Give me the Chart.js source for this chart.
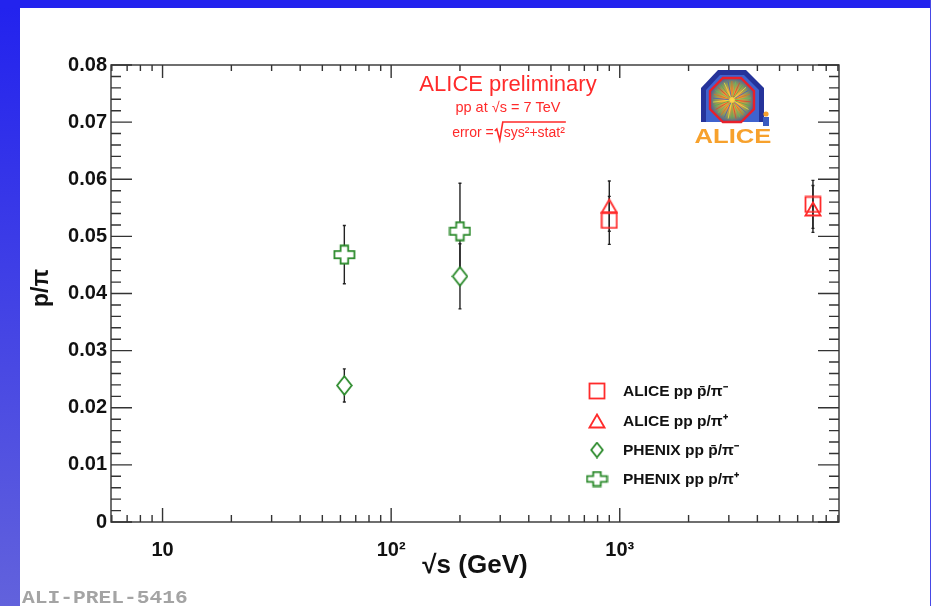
<!DOCTYPE html>
<html>
<head>
<meta charset="utf-8">
<script src="https://cdn.jsdelivr.net/npm/chart.js@4.4.1/dist/chart.umd.min.js"></script>
<style>
  html, body { margin: 0; padding: 0; background: #fff; }
  #page { position: relative; width: 931px; height: 606px; overflow: hidden; background: #fff; }
  #barLeft { position: absolute; left: 0; top: 0; width: 20px; height: 606px; background: linear-gradient(#2222ee, #6262dc); }
  #barTop { position: absolute; left: 0; top: 0; width: 931px; height: 8px; background: #2323ee; }
  #barRight { position: absolute; right: 0; top: 0; width: 1px; height: 606px; background: #4848e6; }
  canvas { position: absolute; left: 0; top: 0; }
</style>
</head>
<body>
<div id="page">
  <div id="barLeft"></div>
  <div id="barTop"></div>
  <div id="barRight"></div>
  <canvas id="chart" width="931" height="606"></canvas>
</div>
<script>
// axis ranges and ticks
const xMin = 5.95, xMax = 9100;
const yMin = 0, yMax = 0.08;
const xMajorTicks = [10, 100, 1000];
const xTickLabels = ['10', '10²', '10³'];

// ALICE pp, sqrt(s) = 0.9 and 7 TeV
const aliceEnergies = [900, 7000];
const aliceAntiP = [0.0528, 0.0556];
const aliceAntiPErr = [0.0042, 0.0042];
const aliceP = [0.0553, 0.0548];
const alicePErr = [0.0044, 0.0041];

// PHENIX pp, sqrt(s) = 62.4 and 200 GeV
const phenixEnergies = [62.4, 200];
const phenixAntiP = [0.0239, 0.0430];
const phenixAntiPErr = [0.0029, 0.0057];
const phenixP = [0.0468, 0.0509];
const phenixPErr = [0.0051, 0.0084];

const legendLabels = ['ALICE pp p̄/π⁻', 'ALICE pp p/π⁺', 'PHENIX pp p̄/π⁻', 'PHENIX pp p/π⁺'];

const FONT = "'Liberation Sans', Arial, Helvetica, sans-serif";
const RED = '#ff2b2b', GREEN = '#2b8a2b';

function makeMarker(w, h, draw) {
    const c = document.createElement('canvas');
    c.width = w; c.height = h;
    draw(c.getContext('2d'), w, h);
    return c;
}
function poly(g, pts) {
    g.beginPath();
    pts.forEach((p, i) => i ? g.lineTo(p[0], p[1]) : g.moveTo(p[0], p[1]));
    g.closePath();
}
const squareImg = makeMarker(18, 18, g => {
    g.strokeStyle = RED; g.lineWidth = 1.8; g.strokeRect(1.5, 1.5, 15, 15);
});
const triangleImg = makeMarker(18, 16, g => {
    poly(g, [[9, 1.5], [16.5, 14.5], [1.5, 14.5]]);
    g.strokeStyle = RED; g.lineWidth = 1.8; g.stroke();
});
function diamond(w, h) {
    return makeMarker(w, h, g => {
        poly(g, [[w / 2, 1.2], [w - 1.2, h / 2], [w / 2, h - 1.2], [1.2, h / 2]]);
        g.fillStyle = '#fff'; g.fill();
        g.strokeStyle = GREEN; g.lineWidth = 1.8; g.stroke();
    });
}
function plus(w, h) {
    return makeMarker(w, h, g => {
        const cx = w / 2, cy = h / 2, hw = w / 2 - 1.5, hh = h / 2 - 1.5, tx = w * 0.165, ty = h * 0.17;
        poly(g, [[cx - tx, cy - hh], [cx + tx, cy - hh], [cx + tx, cy - ty], [cx + hw, cy - ty], [cx + hw, cy + ty],
            [cx + tx, cy + ty], [cx + tx, cy + hh], [cx - tx, cy + hh], [cx - tx, cy + ty], [cx - hw, cy + ty],
            [cx - hw, cy - ty], [cx - tx, cy - ty]]);
        g.fillStyle = '#fff'; g.fill();
        g.strokeStyle = GREEN; g.lineWidth = 1.8; g.stroke();
    });
}
const diamondImg = diamond(17, 21);
const plusImg = plus(23, 21);
const legendImgs = [squareImg, triangleImg, diamond(14, 17), plus(23, 17)];

function pts(xs, ys) { return xs.map((x, i) => ({ x, y: ys[i] })); }

// error bars, drawn under the markers
const errorBars = {
    id: 'errorBars',
    beforeDatasetsDraw(chart) {
        const { ctx, scales: { y } } = chart;
        ctx.save();
        ctx.strokeStyle = '#222'; ctx.lineWidth = 1.4;
        chart.data.datasets.forEach((ds, i) => {
            chart.getDatasetMeta(i).data.forEach((el, j) => {
                const v = ds.data[j].y, e = ds.errors[j];
                const y1 = y.getPixelForValue(v + e), y2 = y.getPixelForValue(v - e);
                ctx.beginPath();
                ctx.moveTo(el.x, y1); ctx.lineTo(el.x, y2);
                ctx.moveTo(el.x - 1.5, y1); ctx.lineTo(el.x + 1.5, y1);
                ctx.moveTo(el.x - 1.5, y2); ctx.lineTo(el.x + 1.5, y2);
                ctx.stroke();
            });
        });
        ctx.restore();
    }
};

// ROOT-style frame with inward ticks on all four sides
const frameTicks = {
    id: 'frameTicks',
    afterDatasetsDraw(chart) {
        const { ctx, chartArea: a, scales: { x, y } } = chart;
        ctx.save();
        ctx.strokeStyle = '#333'; ctx.lineWidth = 1.4;
        ctx.strokeRect(a.left, a.top, a.right - a.left, a.bottom - a.top);
        ctx.beginPath();
        const yMinor = 0.002;
        for (let k = 0; k <= Math.round((yMax - yMin) / yMinor); k++) {
            const py = y.getPixelForValue(yMin + k * yMinor);
            const len = k % 5 === 0 ? 21 : 10;
            ctx.moveTo(a.left, py); ctx.lineTo(a.left + len, py);
            ctx.moveTo(a.right, py); ctx.lineTo(a.right - len, py);
        }
        for (let d = 1; d <= 1000; d *= 10) {
            for (let m = 1; m <= 9; m++) {
                const v = d * m;
                if (v < xMin || v > xMax) continue;
                const px = x.getPixelForValue(v);
                const len = m === 1 ? 14 : 7;
                ctx.moveTo(px, a.bottom); ctx.lineTo(px, a.bottom - len);
                ctx.moveTo(px, a.top); ctx.lineTo(px, a.top + (m === 1 ? 13 : 6));
            }
        }
        ctx.stroke();
        ctx.restore();
    }
};

function octagon(ctx, cx, cy, r) {
    ctx.beginPath();
    for (let i = 0; i < 8; i++) {
        const t = Math.PI / 8 + i * Math.PI / 4;
        const px = cx + r * Math.cos(t) / Math.cos(Math.PI / 8);
        const py = cy + r * Math.sin(t) / Math.cos(Math.PI / 8);
        i ? ctx.lineTo(px, py) : ctx.moveTo(px, py);
    }
    ctx.closePath();
}

const decorations = {
    id: 'decorations',
    afterDraw(chart) {
        const { ctx } = chart;
        ctx.save();
        // y axis title
        ctx.save();
        ctx.translate(42, 288);
        ctx.rotate(-Math.PI / 2);
        ctx.textAlign = 'center';
        ctx.textBaseline = 'middle';
        ctx.font = `bold 23px ${FONT}`;
        ctx.fillStyle = '#111';
        ctx.fillText('p/π', 0, 0);
        ctx.restore();

        // legend
        ctx.textBaseline = 'middle';
        ctx.textAlign = 'left';
        ctx.font = `bold 15.5px ${FONT}`;
        ctx.fillStyle = '#111';
        const rows = [391, 421, 450, 479];
        legendLabels.forEach((t, i) => {
            const img = legendImgs[i];
            ctx.drawImage(img, 597 - img.width / 2, rows[i] - img.height / 2);
            ctx.fillText(t, 623, rows[i] + 1);
        });

        // ALICE preliminary block
        ctx.fillStyle = '#ff2a2a';
        ctx.textAlign = 'center';
        ctx.textBaseline = 'alphabetic';
        ctx.font = `22px ${FONT}`;
        ctx.fillText('ALICE preliminary', 508, 91);
        ctx.font = `14.5px ${FONT}`;
        ctx.fillText('pp at √s = 7 TeV', 508, 112);
        ctx.textAlign = 'left';
        ctx.font = `14px ${FONT}`;
        const e1 = 'error =', e2 = 'sys²+stat²';
        const w1 = ctx.measureText(e1).width, w2 = ctx.measureText(e2).width;
        const x0 = 508 - (w1 + 9 + w2) / 2;
        ctx.fillText(e1, x0, 137);
        ctx.strokeStyle = '#ff2a2a'; ctx.lineWidth = 1.6;
        ctx.beginPath();
        ctx.moveTo(x0 + w1 + 1, 131); ctx.lineTo(x0 + w1 + 3, 129); ctx.lineTo(x0 + w1 + 6, 140);
        ctx.lineTo(x0 + w1 + 9, 122); ctx.lineTo(x0 + w1 + 9 + w2 + 2, 122);
        ctx.stroke();
        ctx.fillText(e2, x0 + w1 + 10, 137);

        // ALICE logo
        poly(ctx, [[701, 122], [701, 88], [718, 70], [746, 70], [764, 88], [764, 122]]);
        ctx.fillStyle = '#25339a'; ctx.fill();
        poly(ctx, [[706, 122], [706, 90], [720, 75], [744, 75], [759, 90], [759, 122]]);
        ctx.fillStyle = '#3f63cf'; ctx.fill();
        octagon(ctx, 732, 100, 22);
        const gr = ctx.createRadialGradient(732, 100, 1, 732, 100, 23);
        gr.addColorStop(0, '#ffd84a'); gr.addColorStop(0.35, '#f09a3a');
        gr.addColorStop(0.7, '#8a9a5a'); gr.addColorStop(1, '#4a5a9a');
        ctx.fillStyle = gr; ctx.fill();
        ctx.strokeStyle = '#e8202a'; ctx.lineWidth = 2.4; ctx.stroke();
        ctx.lineWidth = 0.8;
        const rays = ['#e04030', '#50b050', '#f0e040', '#4060c0', '#e07020', '#60c060'];
        for (let i = 0; i < 30; i++) {
            const t = i * Math.PI / 15 + 0.1;
            ctx.strokeStyle = rays[i % rays.length];
            ctx.beginPath();
            ctx.moveTo(732 + 3 * Math.cos(t), 100 + 3 * Math.sin(t));
            ctx.lineTo(732 + 19 * Math.cos(t), 100 + 19 * Math.sin(t));
            ctx.stroke();
        }
        ctx.fillStyle = '#f5a02c';
        ctx.beginPath(); ctx.arc(766, 114, 2.6, 0, Math.PI * 2); ctx.fill();
        ctx.fillStyle = '#3a5cc0';
        ctx.fillRect(763, 117, 6, 9);
        ctx.save();
        ctx.translate(733, 143);
        ctx.scale(1.22, 1);
        ctx.font = `bold 21px ${FONT}`;
        ctx.textAlign = 'center';
        ctx.fillStyle = '#f7a12c';
        ctx.fillText('ALICE', 0, 0);
        ctx.restore();

        // preliminary figure tag
        ctx.save();
        ctx.translate(22, 603);
        ctx.scale(1.18, 1);
        ctx.textAlign = 'left';
        ctx.font = `bold 18px 'Liberation Mono', 'DejaVu Sans Mono', monospace`;
        ctx.fillStyle = '#a4a4a4';
        ctx.fillText('ALI-PREL-5416', 0, 0);
        ctx.restore();
        ctx.restore();
    }
};

new Chart(document.getElementById('chart'), {
    type: 'scatter',
    data: {
        datasets: [
            { label: legendLabels[3], data: pts(phenixEnergies, phenixP), errors: phenixPErr, pointStyle: plusImg },
            { label: legendLabels[2], data: pts(phenixEnergies, phenixAntiP), errors: phenixAntiPErr, pointStyle: diamondImg },
            { label: legendLabels[0], data: pts(aliceEnergies, aliceAntiP), errors: aliceAntiPErr, pointStyle: squareImg },
            { label: legendLabels[1], data: pts(aliceEnergies, aliceP), errors: alicePErr, pointStyle: triangleImg }
        ]
    },
    options: {
        responsive: false,
        animation: false,
        layout: { padding: { left: 20, top: 65, right: 92, bottom: 0 } },
        elements: { point: { radius: 6, hoverRadius: 6 } },
        plugins: { legend: { display: false }, tooltip: { enabled: false } },
        scales: {
            x: {
                type: 'logarithmic', min: xMin, max: xMax,
                afterFit: s => { s.height = 84; },
                afterBuildTicks: s => { s.ticks = xMajorTicks.map(v => ({ value: v })); },
                grid: { display: false, drawTicks: false },
                border: { display: false },
                ticks: {
                    autoSkip: false, maxRotation: 0, padding: 16, color: '#111',
                    font: { family: FONT, size: 20, weight: 'bold' },
                    callback: v => xTickLabels[xMajorTicks.indexOf(v)] || ''
                },
                title: {
                    display: true, text: '√s (GeV)', color: '#111',
                    font: { family: FONT, size: 26, weight: 'bold' },
                    padding: { top: 0, bottom: 25 }
                }
            },
            y: {
                min: yMin, max: yMax,
                afterFit: s => { s.width = 91; },
                grid: { display: false, drawTicks: false },
                border: { display: false },
                ticks: {
                    stepSize: 0.01, padding: 4, color: '#111',
                    font: { family: FONT, size: 20, weight: 'bold' },
                    callback: v => v === 0 ? '0' : v.toFixed(2)
                }
            }
        }
    },
    plugins: [errorBars, frameTicks, decorations]
});
</script>
</body>
</html>
